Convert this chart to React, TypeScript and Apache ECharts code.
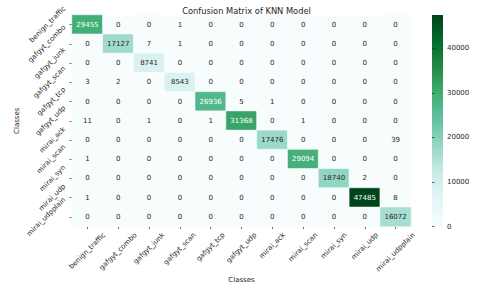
import React, { useEffect, useRef } from "react";
import * as echarts from "echarts";

const classes = [
  "benign_traffic",
  "gafgyt_combo",
  "gafgyt_junk",
  "gafgyt_scan",
  "gafgyt_tcp",
  "gafgyt_udp",
  "mirai_ack",
  "mirai_scan",
  "mirai_syn",
  "mirai_udp",
  "mirai_udpplain",
];

// rows = true class, columns = predicted class
const rowBenignTraffic = [29455, 0, 0, 1, 0, 0, 0, 0, 0, 0, 0];
const rowGafgytCombo = [0, 17127, 7, 1, 0, 0, 0, 0, 0, 0, 0];
const rowGafgytJunk = [0, 0, 8741, 0, 0, 0, 0, 0, 0, 0, 0];
const rowGafgytScan = [3, 2, 0, 8543, 0, 0, 0, 0, 0, 0, 0];
const rowGafgytTcp = [0, 0, 0, 0, 26936, 5, 1, 0, 0, 0, 0];
const rowGafgytUdp = [11, 0, 1, 0, 1, 31368, 0, 1, 0, 0, 0];
const rowMiraiAck = [0, 0, 0, 0, 0, 0, 17476, 0, 0, 0, 39];
const rowMiraiScan = [1, 0, 0, 0, 0, 0, 0, 29094, 0, 0, 0];
const rowMiraiSyn = [0, 0, 0, 0, 0, 0, 0, 0, 18740, 2, 0];
const rowMiraiUdp = [1, 0, 0, 0, 0, 0, 0, 0, 0, 47485, 8];
const rowMiraiUdpplain = [0, 0, 0, 0, 0, 0, 0, 0, 0, 0, 16072];

const matrix = [
  rowBenignTraffic,
  rowGafgytCombo,
  rowGafgytJunk,
  rowGafgytScan,
  rowGafgytTcp,
  rowGafgytUdp,
  rowMiraiAck,
  rowMiraiScan,
  rowMiraiSyn,
  rowMiraiUdp,
  rowMiraiUdpplain,
];

const colorbarTicks = [0, 10000, 20000, 30000, 40000];
const chartTitle = "Confusion Matrix of KNN Model";
const xTitle = "Classes";
const yTitle = "Classes";

const BuGn = [
  "#f7fcfd",
  "#e5f5f9",
  "#ccece6",
  "#99d8c9",
  "#66c2a4",
  "#41ae76",
  "#238b45",
  "#006d2c",
  "#00441b",
];

const FONT = "DejaVu Sans";
const TXT = "#262626";
const FS = 7;

// layout (pixels)
const G_LEFT = 72;
const G_TOP = 15;
const G_W = 339;
const G_H = 211.5;

function measure(text: string, size: number): number {
  const ctx = document.createElement("canvas").getContext("2d");
  if (!ctx) return text.length * size * 0.6;
  ctx.font = `${size}px "${FONT}"`;
  return ctx.measureText(text).width;
}

export default function App() {
  const ref = useRef<HTMLDivElement>(null);

  useEffect(() => {
    if (!ref.current) return;
    const chart = echarts.init(ref.current, undefined, { renderer: "svg" });

    const vmax = Math.max(...matrix.flat());
    const data: any[] = [];
    matrix.forEach((row, r) => {
      row.forEach((v, c) => {
        data.push({
          value: [c, r, v],
          label: { color: v / vmax > 0.45 ? "#ffffff" : TXT },
        });
      });
    });

    const xRich: any = {};
    const yRich: any = {};
    classes.forEach((name, i) => {
      const w = measure(name, FS);
      const p = 0.5 * (w + FS);
      xRich["x" + i] = {
        fontSize: FS,
        fontFamily: FONT,
        color: TXT,
        padding: [p, p, 0, 0],
      };
      yRich["y" + i] = {
        fontSize: FS,
        fontFamily: FONT,
        color: TXT,
        padding: [0, p, p, 0],
      };
    });

    const stops = BuGn.map((c, i) => ({ offset: i / (BuGn.length - 1), color: c }));

    chart.setOption({
      animation: false,
      backgroundColor: "#ffffff",
      textStyle: { fontFamily: FONT },
      title: {
        text: chartTitle,
        left: G_LEFT + G_W / 2,
        textAlign: "center",
        top: 2,
        textStyle: { fontSize: 8.3, fontWeight: "normal", color: TXT, fontFamily: FONT },
      },
      graphic: [
        {
          type: "text",
          x: G_LEFT + G_W / 2,
          y: 280,
          style: {
            text: xTitle,
            fontSize: FS,
            fontFamily: FONT,
            fill: TXT,
            align: "center",
            verticalAlign: "middle",
          },
        },
        {
          type: "text",
          x: 17,
          y: G_TOP + G_H / 2,
          rotation: Math.PI / 2,
          style: {
            text: yTitle,
            fontSize: FS,
            fontFamily: FONT,
            fill: TXT,
            align: "center",
            verticalAlign: "middle",
          },
        },
      ],
      grid: [
        {
          left: G_LEFT,
          top: G_TOP,
          width: G_W,
          height: G_H,
          containLabel: false,
          outerBoundsMode: "none",
        },
        {
          left: 432,
          top: G_TOP,
          width: 11,
          height: G_H,
          show: true,
          borderWidth: 0,
          backgroundColor: new echarts.graphic.LinearGradient(0, 1, 0, 0, stops),
          containLabel: false,
          outerBoundsMode: "none",
        },
      ],
      xAxis: [
        {
          type: "category",
          data: classes,
          gridIndex: 0,
          position: "bottom",
          axisLine: { show: false },
          axisTick: { show: true, alignWithLabel: true, length: 2.5, lineStyle: { color: TXT, width: 0.7 } },
          splitLine: { show: false },
          axisLabel: {
            interval: 0,
            rotate: 45,
            align: "center",
            verticalAlign: "middle",
            margin: 5,
            formatter: (v: string, i: number) => `{x${i}|${v}}`,
            rich: xRich,
          },
        },
        {
          type: "value",
          gridIndex: 1,
          show: false,
          min: 0,
          max: 1,
        },
      ],
      yAxis: [
        {
          type: "category",
          data: classes,
          gridIndex: 0,
          inverse: true,
          axisLine: { show: false },
          axisTick: { show: true, alignWithLabel: true, length: 2.5, lineStyle: { color: TXT, width: 0.7 } },
          splitLine: { show: false },
          axisLabel: {
            interval: 0,
            rotate: 45,
            align: "center",
            verticalAlign: "middle",
            margin: 5,
            formatter: (v: string, i: number) => `{y${i}|${v}}`,
            rich: yRich,
          },
        },
        {
          type: "value",
          gridIndex: 1,
          position: "right",
          min: 0,
          max: vmax,
          axisLine: { show: false },
          splitLine: { show: false },
          axisTick: {
            show: true,
            length: 2.5,
            customValues: colorbarTicks,
            lineStyle: { color: TXT, width: 0.7 },
          },
          axisLabel: {
            customValues: colorbarTicks,
            fontSize: FS,
            color: TXT,
            fontFamily: FONT,
            margin: 4,
            formatter: (v: number) => String(v),
          },
        },
      ],
      visualMap: {
        show: false,
        type: "continuous",
        min: 0,
        max: vmax,
        seriesIndex: 0,
        inRange: { color: BuGn },
      },
      series: [
        {
          type: "heatmap",
          xAxisIndex: 0,
          yAxisIndex: 0,
          data,
          itemStyle: { borderColor: "#ffffff", borderWidth: 0.5 },
          label: {
            show: true,
            fontSize: FS,
            fontFamily: FONT,
            formatter: (p: any) => String(p.value[2]),
          },
          emphasis: { disabled: true },
        },
      ],
    });

    return () => chart.dispose();
  }, []);

  return (
    <div
      ref={ref}
      style={{ position: "fixed", left: 0, top: 0, width: 480, height: 289 }}
    />
  );
}
